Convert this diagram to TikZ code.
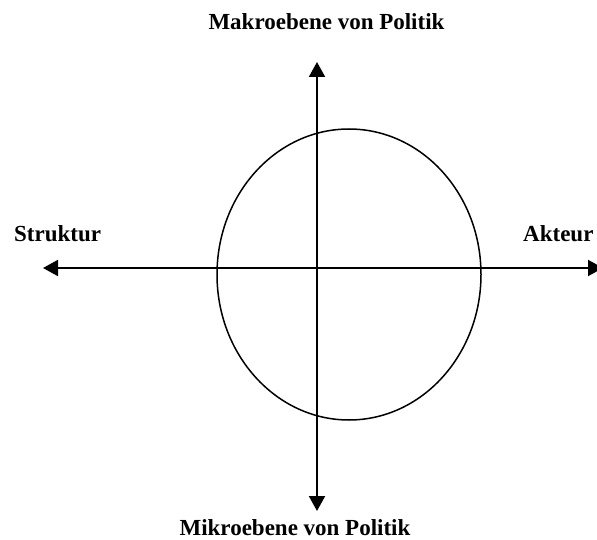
\documentclass[tikz,border=0pt]{standalone}
\usepackage{fontspec}
\setmainfont{Liberation Serif}
\usetikzlibrary{arrows.meta}

\begin{document}
\begin{tikzpicture}[x=1pt, y=-1pt, font=\fontsize{23}{27}\selectfont\bfseries,
    axis/.style={line width=2pt, -{Triangle[length=15pt, width=16pt]}},
    label/.style={inner sep=0pt}]
  \useasboundingbox (0,0) rectangle (597,540);

  % axis end points
  \coordinate (o) at (317,268);
  \coordinate (west) at (43,268);
  \coordinate (east) at (603,268);
  \coordinate (north) at (317,62);
  \coordinate (south) at (317,511);

  % axes
  \draw[axis] (o) -- (west);
  \draw[axis] (o) -- (east);
  \draw[axis] (o) -- (north);
  \draw[axis] (o) -- (south);

  % ellipse
  \draw[line width=1.5pt] (349,274.5) ellipse (132 and 145.5);

  % labels
  \node[label, anchor=base] (makro) at (326.5,29.5) {Makroebene von Politik};
  \node[label, anchor=base] (mikro) at (295,535) {Mikroebene von Politik};
  \node[label, anchor=base west] (struktur) at (14,242) {Struktur};
  \node[label, anchor=base west] (akteur) at (523,242) {Akteur};
\end{tikzpicture}
\end{document}
